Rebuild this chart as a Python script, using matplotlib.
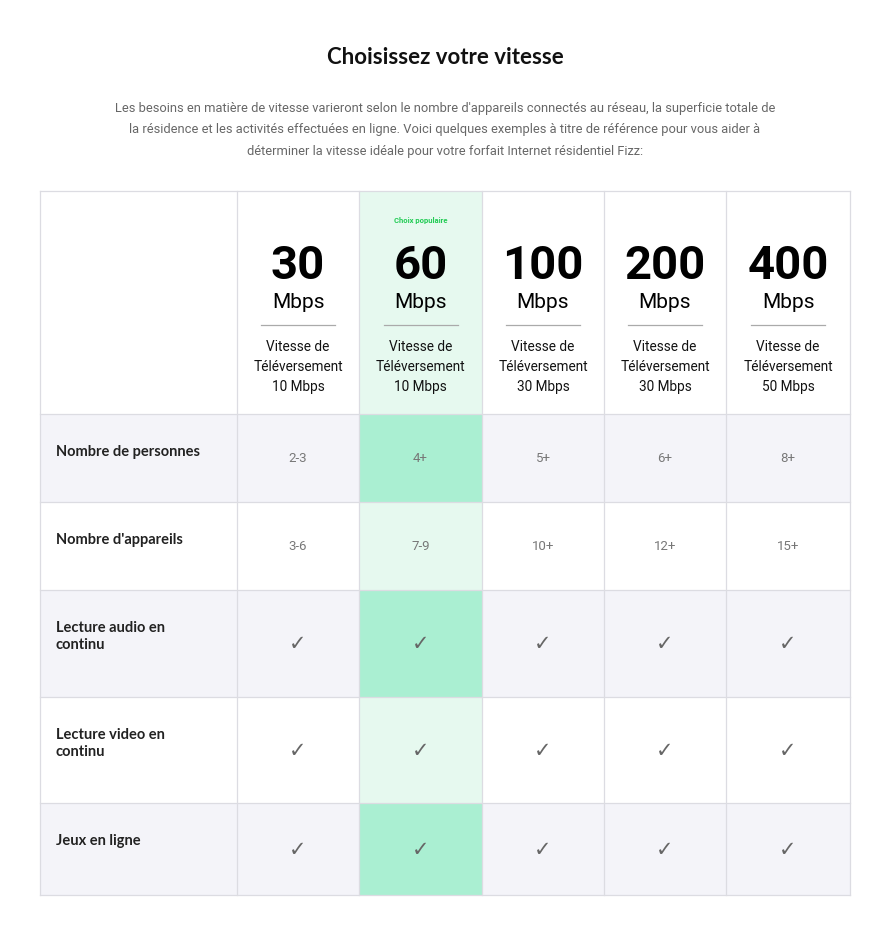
import matplotlib.pyplot as plt
from matplotlib.patches import Rectangle

# Table content
speeds = ["30", "60", "100", "200", "400"]
upload = ["10 Mbps", "10 Mbps", "30 Mbps", "30 Mbps", "50 Mbps"]
row_labels = ["Nombre de personnes", "Nombre d'appareils",
              "Lecture audio en\ncontinu", "Lecture video en\ncontinu", "Jeux en ligne"]
personnes = ["2-3", "4+", "5+", "6+", "8+"]
appareils = ["3-6", "7-9", "10+", "12+", "15+"]
audio = [True, True, True, True, True]
video = [True, True, True, True, True]
jeux = [True, True, True, True, True]
rows = [personnes, appareils, audio, video, jeux]
popular = 1

title = "Choisissez votre vitesse"
intro = ("Les besoins en matière de vitesse varieront selon le nombre d'appareils connectés au réseau, la superficie totale de\n"
         "la résidence et les activités effectuées en ligne. Voici quelques exemples à titre de référence pour vous aider à\n"
         "déterminer la vitesse idéale pour votre forfait Internet résidentiel Fizz:")

col_x = [40, 237, 359, 482, 604, 726, 850]
row_y = [192, 415, 503, 591, 698, 804, 896]

fig = plt.figure(figsize=(8.9, 9.37), dpi=100)
ax = fig.add_axes([0, 0, 1, 1])
ax.set_xlim(0, 890)
ax.set_ylim(937, 0)
ax.axis("off")

ax.text(445, 58, title, ha="center", va="center", fontsize=16, fontweight="bold",
        family="Lato", color="#111")
ax.text(445, 130, intro, ha="center", va="center", fontsize=9.3, family="Roboto",
        color="#666", linespacing=1.85)

grid = "#dcdce2"
# backgrounds
for r in range(len(rows)):
    y0, y1 = row_y[r + 1], row_y[r + 2]
    shaded = r % 2 == 0
    for c in range(6):
        if c - 1 == popular:
            fc = "#aaefd2" if shaded else "#e6f9ef"
        else:
            fc = "#f4f4f9" if shaded else "white"
        ax.add_patch(Rectangle((col_x[c], y0), col_x[c + 1] - col_x[c], y1 - y0,
                               facecolor=fc, edgecolor="none"))
ax.add_patch(Rectangle((col_x[popular + 1], row_y[0]), col_x[popular + 2] - col_x[popular + 1],
                       row_y[1] - row_y[0], facecolor="#e6f9ef", edgecolor="none"))

for x in col_x:
    ax.plot([x, x], [row_y[0], row_y[-1]], color=grid, lw=0.9)
for y in row_y:
    ax.plot([col_x[0], col_x[-1]], [y, y], color=grid, lw=0.9)

# header
for i, s in enumerate(speeds):
    cx = (col_x[i + 1] + col_x[i + 2]) / 2
    if i == popular:
        ax.text(cx, 221, "Choix populaire", ha="center", va="center", fontsize=5.5,
                fontweight="bold", color="#22cc55", family="Roboto")
    ax.text(cx, 266, s, ha="center", va="center", fontsize=34, fontweight="bold",
            family="Roboto", color="black")
    ax.text(cx, 303, "Mbps", ha="center", va="center", fontsize=15, family="Roboto", color="black")
    ax.plot([cx - 37, cx + 37], [326, 326], color="#aaa", lw=0.9)
    ax.text(cx, 367, "Vitesse de\nTéléversement\n" + upload[i], ha="center", va="center",
            fontsize=9.8, family="Roboto", color="#111", linespacing=1.55)

# body
for r, vals in enumerate(rows):
    y0, y1 = row_y[r + 1], row_y[r + 2]
    cy = (y0 + y1) / 2
    ax.text(56, y0 + 30, row_labels[r], ha="left", va="top", fontsize=10.5,
            fontweight="bold", family="Lato", color="#222", linespacing=1.3)
    for c, v in enumerate(vals):
        cx = (col_x[c + 1] + col_x[c + 2]) / 2
        if v is True:
            ax.text(cx, cy, "✓", ha="center", va="center", fontsize=15,
                    family="DejaVu Sans", color="#666")
        else:
            ax.text(cx, cy, v, ha="center", va="center", fontsize=9.5,
                    family="Roboto", color="#777")

fig.savefig("out.png", dpi=100)
